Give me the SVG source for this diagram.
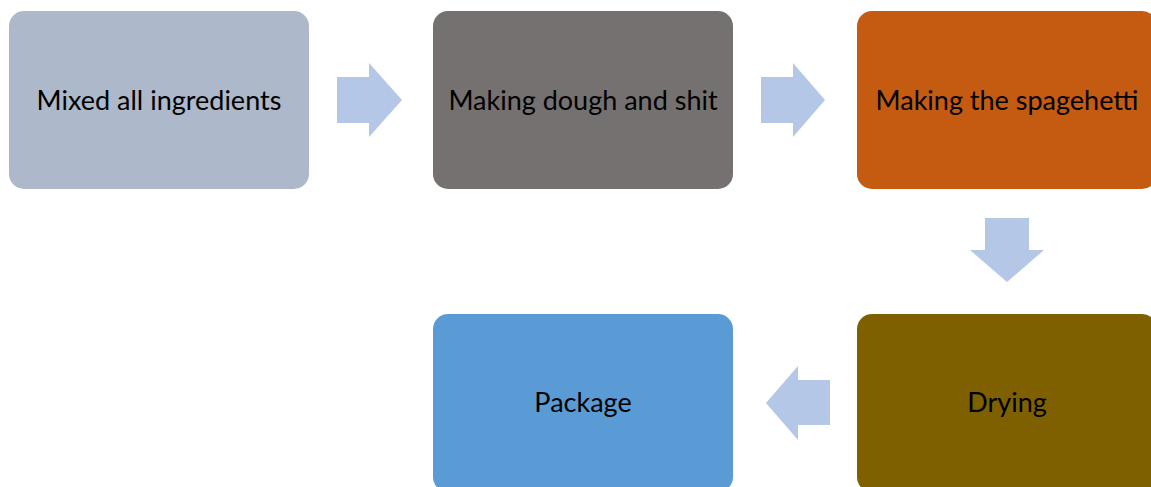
<svg xmlns="http://www.w3.org/2000/svg" width="1151" height="487" viewBox="0 0 1151 487">
<style>
.box{stroke:none}
.lbl{font-family:Lato,"Liberation Sans",sans-serif;font-size:27px;fill:#000;text-anchor:middle}
.arr{fill:#B4C7E7}
</style>
<rect width="1151" height="487" fill="#fff"/>
<g id="connectors">
<polygon class="arr" points="337,77 369,77 369,63 402,100 369,137 369,123 337,123"/>
<polygon class="arr" points="761,77 793,77 793,63 825,100 793,137 793,123 761,123"/>
<polygon class="arr" points="985,218 1029,218 1029,250 1044,250 1007,282 970,250 985,250"/>
<polygon class="arr" points="830,380 798,380 798,366 766,403 798,440 798,425 830,425"/>
</g>
<g id="n1"><rect class="box" x="9" y="11" width="300" height="178" rx="15" fill="#ADB9CA"/><text class="lbl" x="159" y="110">Mixed all ingredients</text></g>
<g id="n2"><rect class="box" x="433" y="11" width="300" height="178" rx="15" fill="#767171"/><text class="lbl" x="583" y="110">Making dough and shit</text></g>
<g id="n3"><rect class="box" x="857" y="11" width="300" height="178" rx="15" fill="#C55A11"/><text class="lbl" x="1007" y="110">Making the spagehetti</text></g>
<g id="n4"><rect class="box" x="857" y="314" width="300" height="178" rx="15" fill="#7F6000"/><text class="lbl" x="1007" y="412">Drying</text></g>
<g id="n5"><rect class="box" x="433" y="314" width="300" height="178" rx="15" fill="#5B9BD5"/><text class="lbl" x="583" y="412">Package</text></g>
</svg>
